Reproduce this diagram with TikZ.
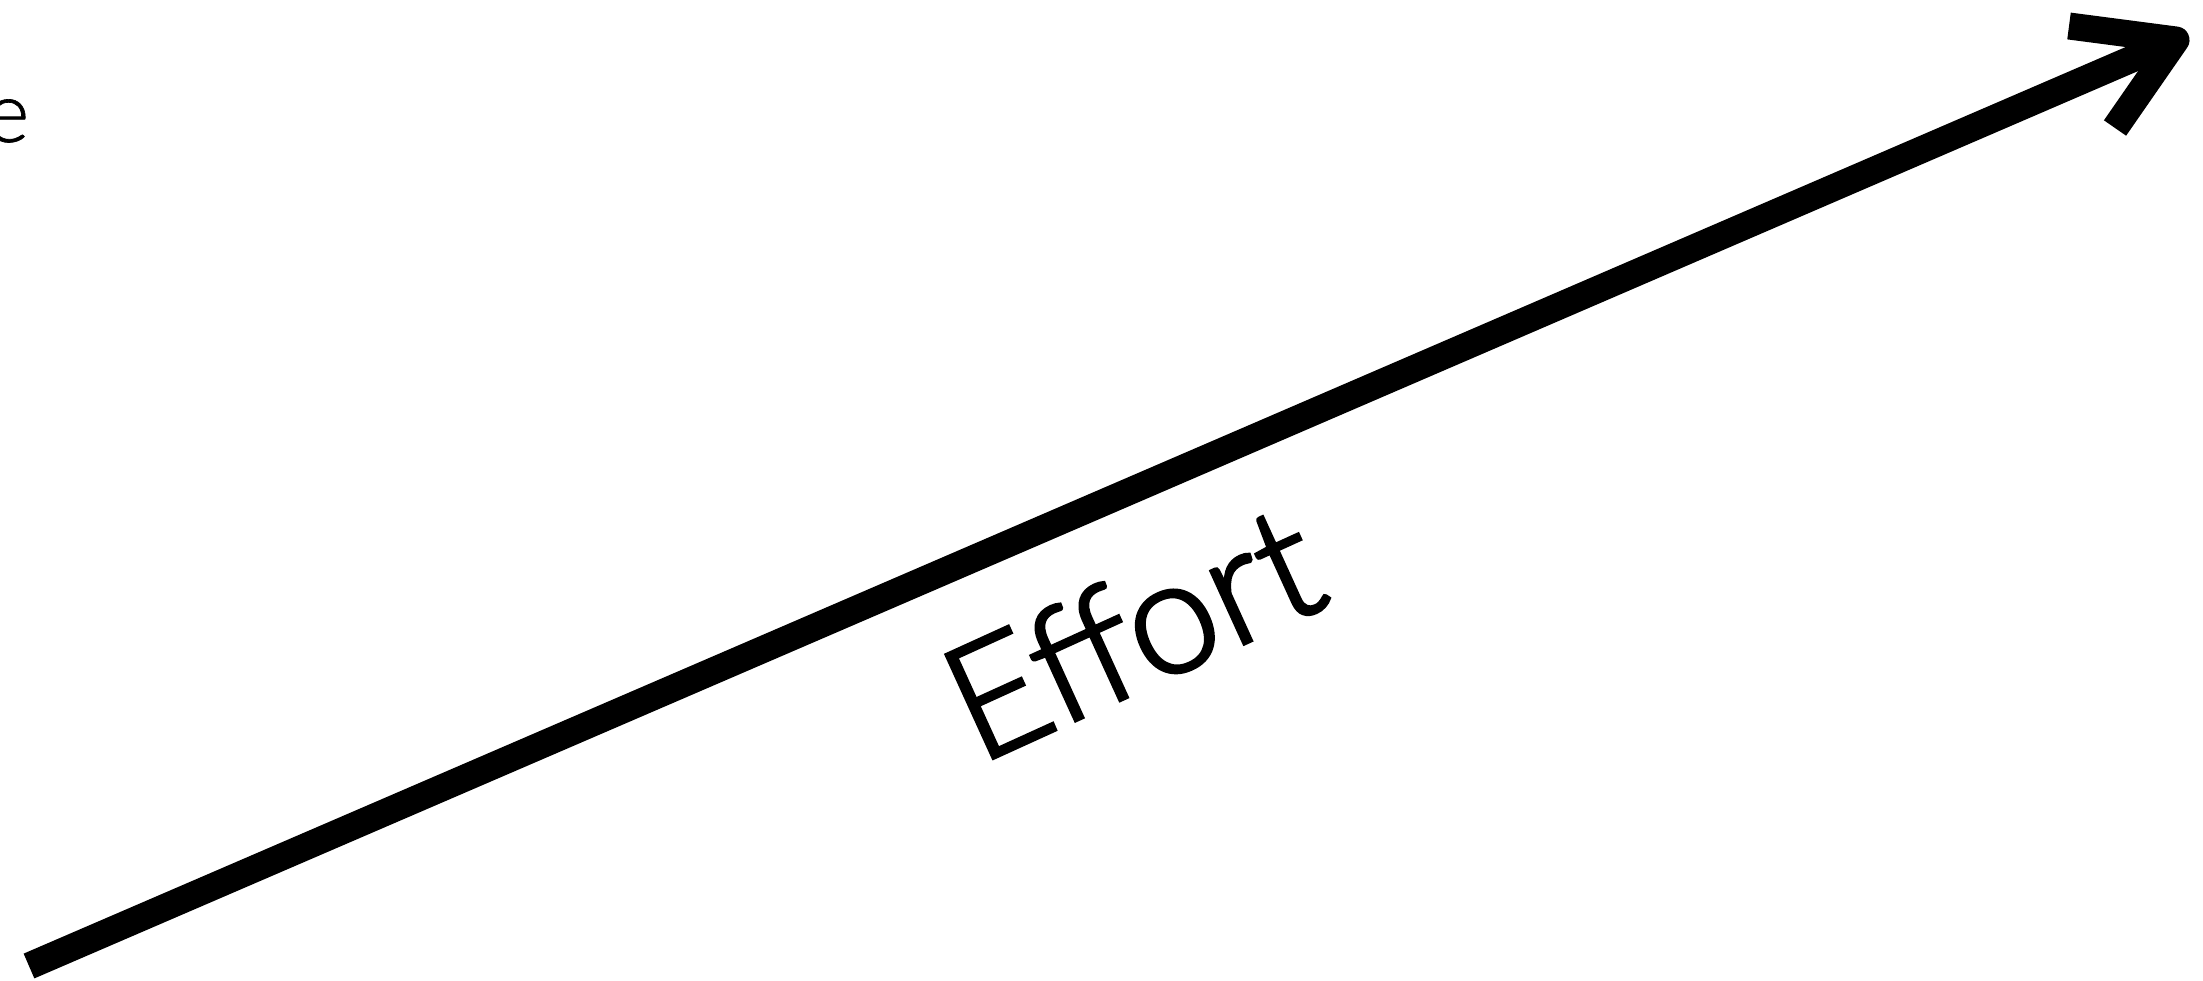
\documentclass[tikz,border=0pt]{standalone}
\usepackage{fontspec}
\newfontfamily\lightsf{Lato}[UprightFont={* Light}]

\begin{document}
\begin{tikzpicture}[font=\lightsf]
\useasboundingbox (0.000,0.000) rectangle (22.030,9.800);
\clip (0.000,0.000) rectangle (22.030,9.800);
% effort axis
\coordinate (start) at (0.290,0.140);
\coordinate (tip) at (21.760,9.400);
\coordinate (barbup) at (20.690,9.540);
\coordinate (barblow) at (21.150,8.520);
\draw[line width=0.27cm,line cap=butt] (start) -- (tip);
\draw[line width=0.27cm,line cap=butt,line join=round] (barbup) -- (tip) -- (barblow);
\node[font=\lightsf\addfontfeature{FakeBold=2.2}\fontsize{45.7pt}{50pt}\selectfont,rotate=24.5,anchor=base,inner sep=0pt] (effort) at (11.560,2.960) {Effort};
% clipped label at the left edge
\node[font=\lightsf\addfontfeature{FakeBold=0.8}\fontsize{24pt}{28pt}\selectfont,anchor=base east,inner sep=0pt] (value) at (0.300,8.380) {e};
\end{tikzpicture}
\end{document}
